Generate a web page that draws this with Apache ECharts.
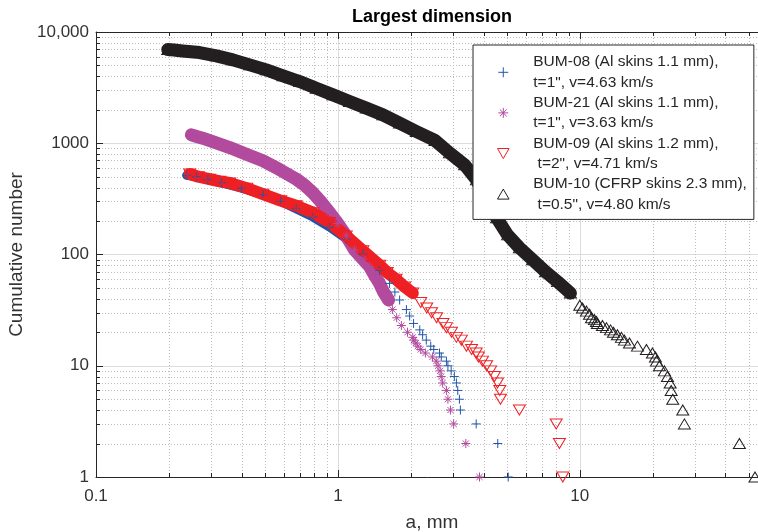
<!DOCTYPE html>
<html>
<head>
<meta charset="utf-8">
<script src="https://cdn.jsdelivr.net/npm/echarts@6/dist/echarts.min.js"></script>
<style>
  html, body { margin: 0; padding: 0; background: #fff; }
  #chart { width: 758px; height: 532px; }
</style>
</head>
<body>
<div id="chart"></div>
<script>
// Values: [a (mm), cumulative number]
const bum08 = [
    [0.237, 515], [0.26, 500], [0.29, 470], [0.33, 440], [0.40, 395], [0.49, 345],
    [0.58, 300], [0.673, 257], [0.788, 217], [0.924, 176], [1.083, 138], [1.269, 101],
    [1.487, 72], [1.635, 55], [1.72, 46], [1.80, 39], [1.92, 32], [1.98, 28],
    [2.055, 24], [2.18, 21], [2.24, 19], [2.32, 17], [2.42, 15], [2.49, 14],
    [2.63, 13], [2.675, 12], [2.81, 11], [2.85, 10], [2.94, 9], [3.03, 8],
    [3.09, 7], [3.13, 6], [3.18, 5], [3.21, 4], [3.73, 3], [4.58, 2], [5.06, 1]
];
const bum21 = [
    [0.248, 1190], [0.2607, 1150], [0.276, 1110], [0.31, 1020], [0.357, 915], [0.416, 800],
    [0.49, 695], [0.574, 580], [0.673, 476], [0.729, 420], [0.786, 361], [0.848, 300],
    [0.924, 238], [0.999, 190], [1.083, 147], [1.172, 110], [1.269, 91], [1.352, 78],
    [1.418, 65], [1.487, 55], [1.545, 46], [1.62, 39], [1.68, 32], [1.75, 27],
    [1.83, 23], [1.94, 20], [2.04, 18], [2.06, 17], [2.10, 16], [2.14, 15],
    [2.20, 14], [2.30, 13], [2.46, 12], [2.55, 11], [2.594, 10], [2.645, 9],
    [2.675, 8], [2.71, 7], [2.81, 6], [2.85, 5], [2.92, 4], [3.01, 3], [3.38, 2], [3.85, 1]
];
const bum09 = [
    [0.244, 530], [0.265, 500], [0.295, 475], [0.325, 455], [0.357, 440], [0.42, 395],
    [0.49, 349], [0.58, 305], [0.673, 274], [0.788, 238], [0.924, 194], [1.083, 147],
    [1.269, 108], [1.49, 80], [1.60, 69], [1.74, 60], [1.89, 51], [2.04, 45],
    [2.20, 37], [2.33, 33], [2.44, 30], [2.56, 27], [2.72, 24], [2.81, 22],
    [2.95, 20], [3.09, 18], [3.24, 17], [3.40, 15], [3.57, 14], [3.73, 13],
    [3.81, 12], [3.96, 11], [4.12, 10], [4.28, 9], [4.44, 8], [4.57, 7],
    [4.67, 6], [4.70, 5], [5.63, 4], [7.99, 3], [8.24, 2], [8.51, 1]
];
const bum10 = [
    [0.198, 6950], [0.21, 6900], [0.228, 6760], [0.268, 6530], [0.3145, 6100], [0.368, 5615],
    [0.432, 5064], [0.506, 4564], [0.593, 4033], [0.695, 3584], [0.814, 3126], [0.954, 2722],
    [1.117, 2369], [1.31, 2067], [1.535, 1800], [1.798, 1516], [2.109, 1274], [2.52, 1060],
    [2.894, 820], [3.34, 640], [3.74, 469], [4.12, 310], [4.53, 214], [5.03, 150],
    [5.63, 115], [6.38, 89.6], [7.22, 70], [8.09, 57], [9.15, 45], [10.0, 35],
    [10.26, 33], [10.66, 31], [10.97, 29], [11.18, 27], [11.5, 26], [11.72, 25],
    [11.83, 24], [12.41, 23], [12.89, 22], [13.4, 21], [13.78, 20], [14.31, 19],
    [14.87, 18], [15.3, 17], [16.05, 16], [17.32, 15], [18.86, 14], [19.97, 13],
    [20.55, 12], [20.75, 11], [21.35, 10], [22.39, 9], [23.04, 8], [23.64, 7],
    [23.87, 6], [24.23, 5], [26.65, 4], [27.07, 3], [45.7, 2], [53, 1]
];

const seriesNames = [
    'BUM-08 (Al skins 1.1 mm),\nt=1", v=4.63 km/s',
    'BUM-21 (Al skins 1.1 mm),\nt=1", v=3.63 km/s',
    'BUM-09 (Al skins 1.2 mm),\n t=2", v=4.71 km/s',
    'BUM-10 (CFRP skins 2.3 mm),\n t=0.5", v=4.80 km/s'
];
const xTickLabels = ['0.1', '1', '10'];
const yTickLabels = ['1', '10', '100', '1000', '10,000'];
const xMin = 0.1, xMax = 60, yMin = 1, yMax = 10000;

// minor grid positions (2..9 in each decade)
const xMinor = [];
[0.1, 1, 10].forEach(d => { for (let k = 2; k <= 9; k++) if (k * d < xMax) xMinor.push(+(k * d).toFixed(3)); });
const yMinor = [];
[1, 10, 100, 1000].forEach(d => { for (let k = 2; k <= 9; k++) yMinor.push(k * d); });

const FONT = 'Liberation Sans, Arial, Helvetica, sans-serif';
const AXIS = '#262626';

const plusPath = 'path://M5,0L5,10M0,5L10,5';
const starPath = 'path://M5,0L5,10M0,5L10,5M1.6,1.6L8.4,8.4M8.4,1.6L1.6,8.4';
const downTri = 'path://M0,0L10,0L5,8.66Z';
const upTri = 'path://M5,0L10,8.66L0,8.66Z';

const styles = [
    { data: bum08, color: '#2356a8', symbol: plusPath, size: 9, band: 60, width: 9 },
    { data: bum21, color: '#b24a9e', symbol: starPath, size: 9, band: 35, width: 13 },
    { data: bum09, color: '#ee2024', symbol: downTri, size: [12, 10], band: 40, width: 12 },
    { data: bum10, color: '#231f20', symbol: upTri, size: [12, 10], band: 40, width: 13 }
];

function tickFormatter(labels, offset) {
    return function (v) {
        const e = Math.log10(v);
        const r = Math.round(e);
        if (Math.abs(e - r) > 1e-6) return '';
        return labels[r + offset] || '';
    };
}

const series = [];

// minor dotted grid lines + minor ticks
series.push({
    type: 'custom', z: 1, silent: true, clip: false,
    data: xMinor.map(v => [v, yMin]),
    renderItem: function (params, api) {
        const p0 = api.coord([api.value(0), yMin]);
        const p1 = api.coord([api.value(0), yMax]);
        const x = Math.round(p0[0]) + 0.5;
        return { type: 'group', children: [
            { type: 'line', shape: { x1: x, y1: p0[1], x2: x, y2: p1[1] }, style: { stroke: '#bdbdbd', lineWidth: 1, lineDash: [1, 2] } },
            { type: 'line', shape: { x1: x, y1: p0[1], x2: x, y2: p0[1] - 4 }, style: { stroke: AXIS, lineWidth: 1 } },
            { type: 'line', shape: { x1: x, y1: p1[1], x2: x, y2: p1[1] + 4 }, style: { stroke: AXIS, lineWidth: 1 } }
        ] };
    }
});
series.push({
    type: 'custom', z: 1, silent: true, clip: false,
    data: yMinor.map(v => [xMin, v]),
    renderItem: function (params, api) {
        const p0 = api.coord([xMin, api.value(1)]);
        const p1 = api.coord([xMax, api.value(1)]);
        const y = Math.round(p0[1]) + 0.5;
        return { type: 'group', children: [
            { type: 'line', shape: { x1: p0[0], y1: y, x2: p1[0], y2: y }, style: { stroke: '#bdbdbd', lineWidth: 1, lineDash: [1, 2] } },
            { type: 'line', shape: { x1: p0[0], y1: y, x2: p0[0] + 4, y2: y }, style: { stroke: AXIS, lineWidth: 1 } }
        ] };
    }
});

styles.forEach((s, i) => {
    // dense part of the distribution drawn as a thick band under the markers
    series.push({
        name: 'band' + i, type: 'line', z: 2, silent: true,
        data: s.data.filter(p => p[1] >= s.band),
        showSymbol: false, symbol: 'none',
        lineStyle: { color: s.color, width: s.width, cap: 'round', join: 'round' }
    });
    series.push({
        name: seriesNames[i], type: 'scatter', z: 3,
        data: s.data,
        symbol: s.symbol, symbolSize: s.size,
        itemStyle: { color: 'none', borderColor: s.color, borderWidth: 1, opacity: 1 }
    });
});

const chart = echarts.init(document.getElementById('chart'), null, { renderer: 'canvas' });
chart.setOption({
    animation: false,
    backgroundColor: '#fff',
    textStyle: { fontFamily: FONT },
    graphic: [{
        type: 'text', x: 432, y: 17, z: 10,
        style: { text: 'Largest dimension', fill: '#000', font: 'bold 18px ' + FONT, align: 'center', verticalAlign: 'middle' }
    }],
    grid: { left: 96, top: 32, width: 672, height: 445, outerBoundsMode: 'none', containLabel: false },
    legend: {
        data: seriesNames,
        orient: 'vertical', left: 473, top: 45,
        padding: [7, 7, 5, 22],
        itemGap: 0, itemWidth: 50, itemHeight: 10,
        backgroundColor: '#fff', borderColor: AXIS, borderWidth: 1,
        selectedMode: false,
        itemStyle: { borderWidth: 1 },
        textStyle: { fontSize: 15.5, lineHeight: 20.3, color: AXIS, fontFamily: FONT }
    },
    xAxis: [{
        type: 'log', logBase: 10, min: xMin, max: xMax, position: 'bottom',
        name: 'a, mm', nameLocation: 'middle', nameGap: 36,
        nameTextStyle: { fontSize: 19, color: '#333', fontFamily: FONT },
        axisLine: { lineStyle: { color: AXIS, width: 1 } },
        axisTick: { inside: true, length: 7, lineStyle: { color: AXIS } },
        axisLabel: { formatter: tickFormatter(xTickLabels, 1), fontSize: 17, color: '#333', margin: 11, fontFamily: FONT },
        splitLine: { show: true, lineStyle: { color: '#dcdcdc', width: 1 } }
    }, {
        type: 'log', logBase: 10, min: xMin, max: xMax, position: 'top',
        axisLine: { lineStyle: { color: AXIS, width: 1 } },
        axisTick: { inside: true, length: 7, lineStyle: { color: AXIS } },
        axisLabel: { show: false },
        splitLine: { show: false }
    }],
    yAxis: {
        type: 'log', logBase: 10, min: yMin, max: yMax,
        name: 'Cumulative number', nameLocation: 'middle', nameGap: 64,
        nameTextStyle: { fontSize: 19, color: '#333', fontFamily: FONT },
        axisLine: { lineStyle: { color: AXIS, width: 1 } },
        axisTick: { inside: true, length: 7, lineStyle: { color: AXIS } },
        axisLabel: { formatter: tickFormatter(yTickLabels, 0), fontSize: 17, color: '#333', margin: 7, fontFamily: FONT },
        splitLine: { show: true, lineStyle: { color: '#dcdcdc', width: 1 } }
    },
    series: series
});
</script>
</body>
</html>
